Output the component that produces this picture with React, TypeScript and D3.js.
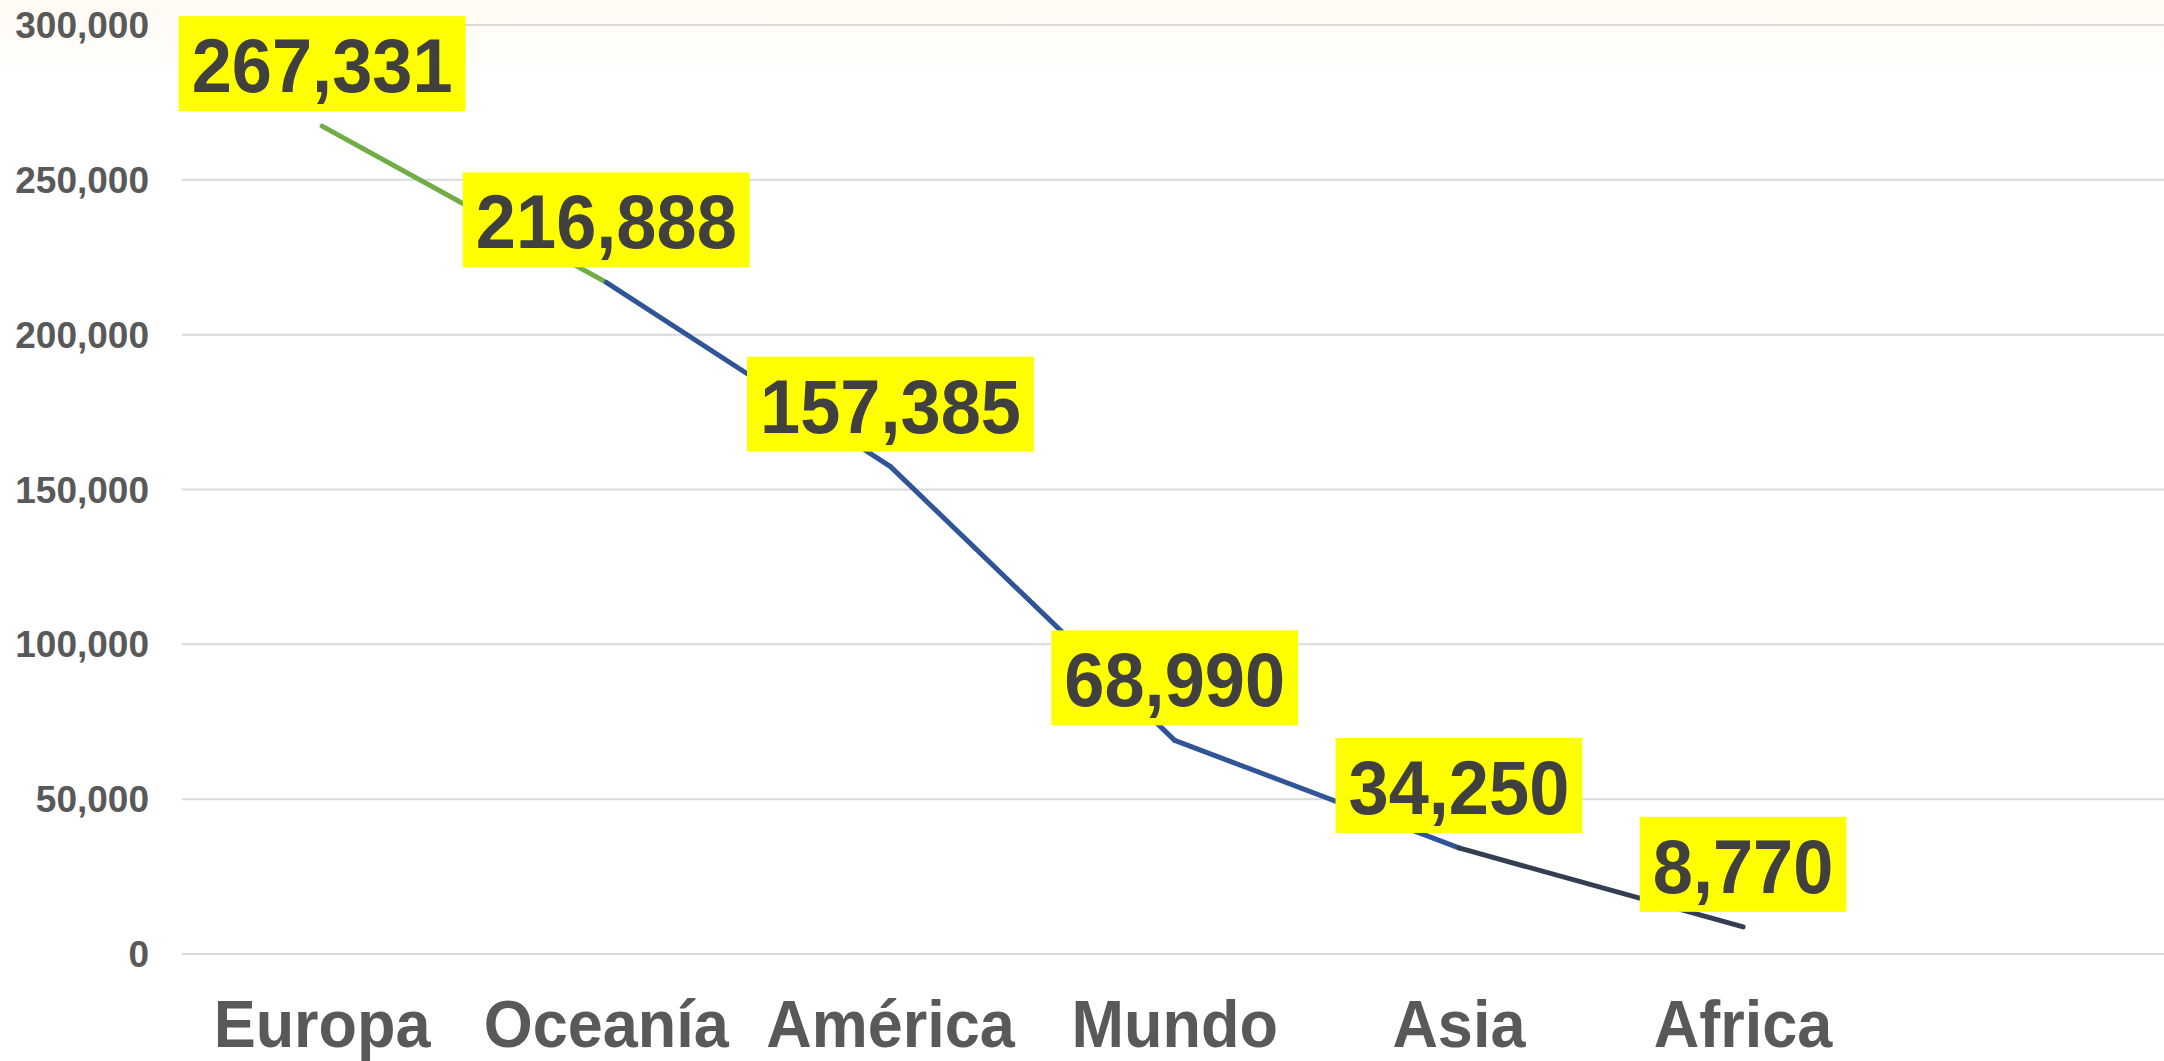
import React, { useEffect } from "react";
import * as d3 from "d3";

const categories: string[] = ["Europa", "Oceanía", "América", "Mundo", "Asia", "Africa"];
const values: number[] = [267331, 216888, 157385, 68990, 34250, 8770];
const segmentColors: string[] = ["#70AD47", "#2F5597", "#2F5597", "#2F5597", "#333F50"];
const yTicks: number[] = [0, 50000, 100000, 150000, 200000, 250000, 300000];

const W = 2164;
const H = 1061;
const plotLeft = 180;
const step = 284.2;
const yTop = 25;
const yBottom = 954;

const x = d3
  .scaleBand<string>()
  .domain(categories)
  .range([plotLeft, plotLeft + step * categories.length])
  .padding(0);
const y = d3.scaleLinear().domain([0, 300000]).range([yBottom, yTop]);
const fmt = d3.format(",");
const cx = (c: string) => (x(c) as number) + x.bandwidth() / 2;

const labelFont = 76;
const labelScaleX = 0.95;
const textW = (s: string, fs: number, sx: number) => {
  let w = 0;
  for (const ch of s) w += ch === "," ? 0.278 : 0.556;
  return w * fs * sx;
};

export default function App() {
  useEffect(() => {
    document.body.style.margin = "0";
  }, []);
  const font = "'Liberation Sans', Arial, Helvetica, sans-serif";
  const pts = categories.map((c, i) => [cx(c), y(values[i])] as [number, number]);
  return (
    <svg width={W} height={H} style={{ display: "block" }} fontFamily={font}>
      <defs>
        <linearGradient id="bg" x1="0" y1="0" x2="0" y2="1">
          <stop offset="0" stopColor="#FFFAF2" />
          <stop offset="0.08" stopColor="#FFFFFF" />
          <stop offset="1" stopColor="#FFFFFF" />
        </linearGradient>
      </defs>
      <rect x={0} y={0} width={W} height={H} fill="url(#bg)" />
      {yTicks.map((t) => (
        <g key={t}>
          <line x1={plotLeft + 2} x2={W} y1={y(t)} y2={y(t)} stroke="#D9D9D9" strokeWidth={2} />
          <text
            x={149}
            y={y(t) + 13}
            textAnchor="end"
            fontSize={37}
            fontWeight="bold"
            fill="#595959"
          >
            {fmt(t)}
          </text>
        </g>
      ))}
      {pts.slice(0, -1).map((p, i) => (
        <line
          key={"s" + i}
          x1={p[0]}
          y1={p[1]}
          x2={pts[i + 1][0]}
          y2={pts[i + 1][1]}
          stroke={segmentColors[i]}
          strokeWidth={5}
          strokeLinecap="round"
        />
      ))}
      {categories.map((c) => (
        <g key={"xl" + c} transform={`translate(${cx(c)},1047) scale(0.94,1)`}>
          <text x={0} y={0} textAnchor="middle" fontSize={67} fontWeight="bold" fill="#595959">
            {c}
          </text>
        </g>
      ))}
      {categories.map((c, i) => {
        const s = fmt(values[i]);
        const tw = textW(s, labelFont, labelScaleX);
        const bw = tw + 26;
        const bh = 95;
        const px = cx(c);
        const py = y(values[i]);
        const bottom = py - 15;
        return (
          <g key={"lb" + c}>
            <rect x={px - bw / 2} y={bottom - bh} width={bw} height={bh} fill="#FFFF00" />
            <g transform={`translate(${px},${bottom - 19}) scale(${labelScaleX},1)`}>
              <text x={0} y={0} textAnchor="middle" fontSize={labelFont} fontWeight="bold" fill="#404040">
                {s}
              </text>
            </g>
          </g>
        );
      })}
    </svg>
  );
}
